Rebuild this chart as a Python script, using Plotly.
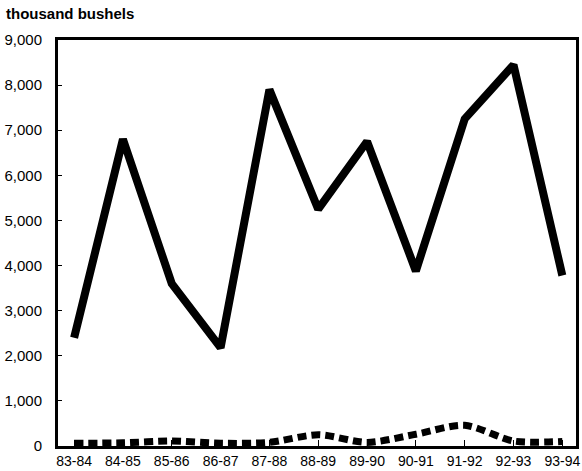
import plotly.graph_objects as go

categories = ["83-84", "84-85", "85-86", "86-87", "87-88", "88-89",
              "89-90", "90-91", "91-92", "92-93", "93-94"]
solid_values = [2400, 6800, 3600, 2180, 7900, 5250, 6750, 3880, 7250, 8450, 3780]
dotted_values = [60, 70, 110, 60, 80, 250, 80, 260, 460, 110, 100]
y_ticks = [0, 1000, 2000, 3000, 4000, 5000, 6000, 7000, 8000, 9000]
y_tick_labels = ["0", "1,000", "2,000", "3,000", "4,000", "5,000",
                 "6,000", "7,000", "8,000", "9,000"]

x_idx = list(range(len(categories)))

fig = go.Figure()
fig.add_trace(go.Scatter(
    x=x_idx, y=dotted_values, mode="lines",
    line=dict(color="black", width=7, dash="9px,5px", shape="spline", smoothing=0.8),
    hoverinfo="skip", showlegend=False, cliponaxis=False,
))
fig.add_trace(go.Scatter(
    x=x_idx, y=solid_values, mode="lines",
    line=dict(color="black", width=8),
    hoverinfo="skip", showlegend=False,
))

fig.update_layout(
    width=582, height=471,
    margin=dict(l=58, r=6, t=40, b=25),
    paper_bgcolor="white", plot_bgcolor="white",
    font=dict(family="Liberation Sans, Arial, sans-serif", size=15, color="black"),
    annotations=[dict(
        text="<b>thousand bushels</b>", x=0, y=1, xref="paper", yref="paper",
        xshift=-54, yshift=37, xanchor="left", yanchor="top", showarrow=False,
        font=dict(size=15, color="black"),
    )],
)
fig.update_xaxes(
    range=[-0.33, 10.28], tickmode="array", tickvals=x_idx, ticktext=categories,
    showline=True, linecolor="black", linewidth=3, mirror=True,
    ticks="inside", ticklen=6, tickwidth=1, tickcolor="black",
    showgrid=False, zeroline=False, tickfont=dict(size=14),
    ticklabelstandoff=0, automargin=False,
)
fig.update_yaxes(
    range=[0, 9000], tickmode="array", tickvals=y_ticks, ticktext=y_tick_labels,
    showline=True, linecolor="black", linewidth=3, mirror=True,
    ticks="inside", ticklen=4, tickwidth=1, tickcolor="black",
    showgrid=False, zeroline=False, tickfont=dict(size=15),
    ticklabelstandoff=10, automargin=False,
)

fig.write_html(
    "out.html",
    config={"displayModeBar": False, "staticPlot": True},
    post_script="document.body.style.margin='0';document.body.style.overflow='hidden';",
)
